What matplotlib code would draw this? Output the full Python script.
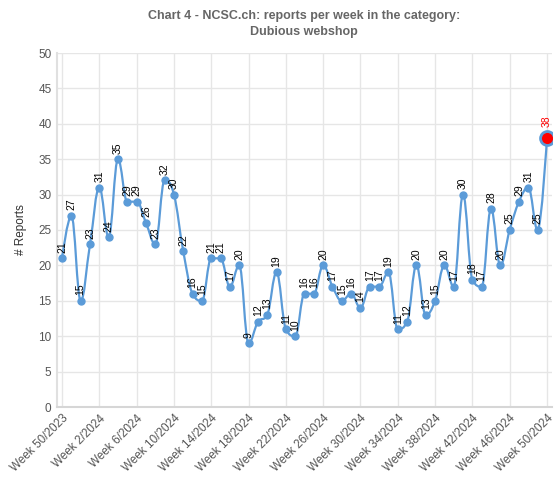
import numpy as np
import matplotlib
matplotlib.use("Agg")
import matplotlib.pyplot as plt
from matplotlib.path import Path
from matplotlib.patches import PathPatch

plt.rcParams['font.family'] = ['Liberation Sans', 'DejaVu Sans']

# weekly report counts, Week 50/2023 .. Week 50/2024
weeks = ["Week 50/2023", "Week 51/2023", "Week 52/2023"] + [f"Week {w}/2024" for w in range(1, 51)]
reports = [21, 27, 15, 23, 31, 24, 35, 29, 29, 26, 23, 32, 30, 22, 16, 15,
           21, 21, 17, 20, 9, 12, 13, 19, 11, 10, 16, 16, 20, 17, 15, 16,
           14, 17, 17, 19, 11, 12, 20, 13, 15, 20, 17, 30, 18, 17, 28, 20,
           25, 29, 31, 25, 38]
y_ticks = list(range(0, 55, 5))

line_color = "#5b9bd8"
grid_color = "#e6e6e6"
text_color = "#555555"


def spline_path(xs, ys, smoothing=1.5):
    # smooth curve through the points, control points like a highcharts spline
    denom = smoothing + 1
    n = len(xs)
    left = [(xs[i], ys[i]) for i in range(n)]
    right = [(xs[i], ys[i]) for i in range(n)]
    for i in range(1, n - 1):
        px, py = xs[i], ys[i]
        lx, ly = xs[i - 1], ys[i - 1]
        nx, ny = xs[i + 1], ys[i + 1]
        lcx = (smoothing * px + lx) / denom
        lcy = (smoothing * py + ly) / denom
        rcx = (smoothing * px + nx) / denom
        rcy = (smoothing * py + ny) / denom
        if rcx != lcx:
            corr = (rcy - lcy) * (rcx - px) / (rcx - lcx) + py - rcy
            lcy += corr
            rcy += corr
        if lcy > max(ly, py):
            lcy = max(ly, py)
            rcy = 2 * py - lcy
        elif lcy < min(ly, py):
            lcy = min(ly, py)
            rcy = 2 * py - lcy
        if rcy > max(py, ny):
            rcy = max(py, ny)
            lcy = 2 * py - rcy
        elif rcy < min(py, ny):
            rcy = min(py, ny)
            lcy = 2 * py - rcy
        left[i] = (lcx, lcy)
        right[i] = (rcx, rcy)
    verts = [(xs[0], ys[0])]
    codes = [Path.MOVETO]
    for i in range(1, n):
        verts += [right[i - 1], left[i], (xs[i], ys[i])]
        codes += [Path.CURVE4] * 3
    return Path(verts, codes)


fig = plt.figure(figsize=(5.55, 5.0), dpi=100)
ax = fig.add_axes([57 / 555, 1 - 407 / 500, (552 - 57) / 555, (407 - 53) / 500])

x = np.arange(len(reports))
ax.add_patch(PathPatch(spline_path(x, reports), facecolor="none",
                       edgecolor=line_color, lw=1.6, zorder=3))
ax.plot(x[:-1], reports[:-1], "o", color=line_color, ms=5, zorder=4)
ax.plot(x[-1], reports[-1], "o", color="red", mec=line_color, mew=2, ms=10, zorder=5)

for i, v in enumerate(reports):
    last = i == len(reports) - 1
    ax.annotate(str(v), (i, v), xytext=(0, 8 if last else 4), textcoords="offset points",
                rotation=90, ha="center", va="bottom", fontsize=7.5,
                color="red" if last else "black", zorder=6)

ax.set_xlim(-0.54, 52.54)
ax.set_ylim(0, 50)
ax.set_yticks(y_ticks)
ax.set_xticks(x[::4])
ax.set_xticklabels(weeks[::4], rotation=45, ha="right", rotation_mode="anchor",
                   fontsize=8.5, color=text_color)
ax.tick_params(axis="y", labelsize=8.5, labelcolor=text_color, length=0, pad=4)
ax.tick_params(axis="x", length=0, pad=4)
ax.grid(True, color=grid_color, lw=1)
ax.set_axisbelow(True)
for s in ["top", "right"]:
    ax.spines[s].set_visible(False)
ax.spines["left"].set_color("#e0e0e0")
ax.spines["left"].set_linewidth(1.5)
ax.spines["bottom"].set_color("#d6d6d6")
ax.spines["bottom"].set_linewidth(1.5)

ax.set_ylabel("# Reports", fontsize=8.5, color="#333333", labelpad=8)
fig.text(304 / 555, 1 - 24 / 500,
         "Chart 4 - NCSC.ch: reports per week in the category:\nDubious webshop",
         ha="center", va="center", fontsize=9, fontweight="bold", color="#666666",
         linespacing=1.35)

fig.savefig("out.png", dpi=100)
